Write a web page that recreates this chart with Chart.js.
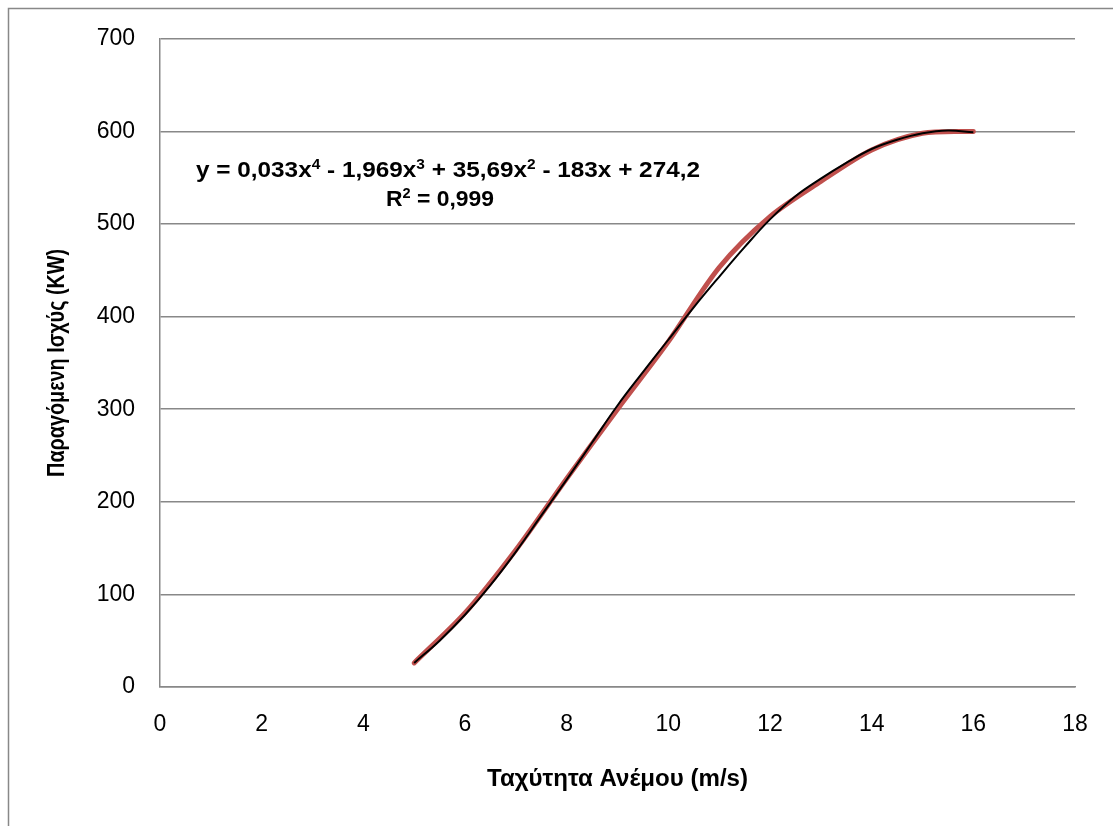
<!DOCTYPE html>
<html>
<head>
<meta charset="utf-8">
<script src="https://cdn.jsdelivr.net/npm/chart.js@4/dist/chart.umd.min.js"></script>
<style>
html,body{margin:0;padding:0;background:#fff;}
canvas{display:block;}
</style>
</head>
<body>
<canvas id="c" width="1113" height="826"></canvas>
<script>
// Measured data (red smoothed line)
const windSpeed = [5, 6, 7, 8, 9, 10, 11, 12, 13, 14, 15, 16];
const powerKW   = [26, 80, 148, 225, 300, 373, 453, 508, 546, 580, 598, 600];

// Trendline (black thin line)
const trendX = [5, 5.5, 6, 6.5, 7, 7.5, 8, 8.5, 9, 9.5, 10, 10.5, 11, 11.5, 12, 12.5, 13, 13.5, 14, 14.5, 15, 15.5, 16];
const trendY = [26, 50, 78, 110, 146, 185, 224, 264, 304, 340, 375, 410, 443, 475, 505, 530, 549, 566, 581, 591, 598, 601, 599];

// Axis settings / labels
const xTicks = [0, 2, 4, 6, 8, 10, 12, 14, 16, 18];
const yTicks = [0, 100, 200, 300, 400, 500, 600, 700];
const xTitle = 'Ταχύτητα Ανέμου (m/s)';
const yTitle = 'Παραγόμενη Ισχύς (KW)';
const eqParts = [['y = 0,033x', false], ['4', true], [' - 1,969x', false], ['3', true], [' + 35,69x', false], ['2', true], [' - 183x + 274,2', false]];
const r2Parts = [['R', false], ['2', true], [' = 0,999', false]];

const FONT = "'Liberation Sans', Arial, sans-serif";
const GRID = '#888888';

function drawRich(ctx, parts, cx, baseline, size, targetW) {
  const measure = () => {
    let w = 0;
    for (const [t, sup] of parts) {
      ctx.font = 'bold ' + (sup ? Math.round(size * 0.62) : size) + 'px ' + FONT;
      w += ctx.measureText(t).width;
    }
    return w;
  };
  const w = measure();
  const sx = targetW ? targetW / w : 1;
  ctx.save();
  ctx.translate(cx - (w * sx) / 2, baseline);
  ctx.scale(sx, 1);
  ctx.fillStyle = '#000';
  ctx.textBaseline = 'alphabetic';
  ctx.textAlign = 'left';
  let x = 0;
  for (const [t, sup] of parts) {
    ctx.font = 'bold ' + (sup ? Math.round(size * 0.62) : size) + 'px ' + FONT;
    ctx.fillText(t, x, sup ? -size * 0.36 : 0);
    x += ctx.measureText(t).width;
  }
  ctx.restore();
}

function drawTitle(ctx, text, cx, cy, size, targetW, rotate) {
  ctx.save();
  ctx.translate(cx, cy);
  if (rotate) ctx.rotate(-Math.PI / 2);
  ctx.font = 'bold ' + size + 'px ' + FONT;
  const w = ctx.measureText(text).width;
  ctx.scale(targetW / w, 1);
  ctx.fillStyle = '#000';
  ctx.textAlign = 'center';
  ctx.textBaseline = 'middle';
  ctx.fillText(text, 0, 0);
  ctx.restore();
}

const decor = {
  id: 'decor',
  beforeDraw(chart) {
    const ctx = chart.ctx;
    ctx.save();
    ctx.fillStyle = '#fff';
    ctx.fillRect(0, 0, chart.width, chart.height);
    ctx.strokeStyle = GRID;
    ctx.lineWidth = 1.5;
    ctx.strokeRect(8.5, 8.5, 3000, 3000);
    ctx.restore();
  },
  afterDraw(chart) {
    const ctx = chart.ctx;
    const a = chart.chartArea;
    drawRich(ctx, eqParts, 448, 177, 22, 504);
    drawRich(ctx, r2Parts, 440, 206, 22, 108);
    drawTitle(ctx, xTitle, (a.left + a.right) / 2, 780, 23, 261, false);
    drawTitle(ctx, yTitle, 58, (a.top + a.bottom) / 2, 23, 228, true);
  }
};

new Chart(document.getElementById('c'), {
  type: 'scatter',
  data: {
    datasets: [
      {
        label: 'Trend',
        data: trendX.map((x, i) => ({x, y: trendY[i]})),
        showLine: true,
        borderColor: '#000000',
        borderWidth: 2,
        pointRadius: 0,
        tension: 0.4,
        fill: false
      },
      {
        label: 'Power',
        data: windSpeed.map((x, i) => ({x, y: powerKW[i]})),
        showLine: true,
        borderColor: '#C0504D',
        borderWidth: 5,
        pointRadius: 0,
        tension: 0.3,
        borderCapStyle: 'round',
        fill: false
      }
    ]
  },
  options: {
    responsive: false,
    animation: false,
    layout: { padding: { top: 37, right: 38, left: 0, bottom: 0 } },
    plugins: { legend: { display: false }, tooltip: { enabled: false } },
    scales: {
      x: {
        type: 'linear',
        min: 0, max: 18,
        afterFit(s) { s.height = 139; },
        afterBuildTicks(s) { s.ticks = xTicks.map(v => ({value: v})); },
        grid: { display: false, drawTicks: false },
        border: { display: true, color: GRID, width: 1.5 },
        ticks: { color: '#000', padding: 24, font: { family: FONT, size: 23 }, maxRotation: 0 },
        title: { display: false }
      },
      y: {
        type: 'linear',
        min: 0, max: 700,
        afterFit(s) { s.width = 160; },
        afterBuildTicks(s) { s.ticks = yTicks.map(v => ({value: v})); },
        grid: { color: GRID, lineWidth: 1.5, drawTicks: false },
        border: { display: true, color: GRID, width: 1.5 },
        ticks: { color: '#000', padding: 25, font: { family: FONT, size: 23 } },
        title: { display: false }
      }
    }
  },
  plugins: [decor]
});
</script>
</body>
</html>
